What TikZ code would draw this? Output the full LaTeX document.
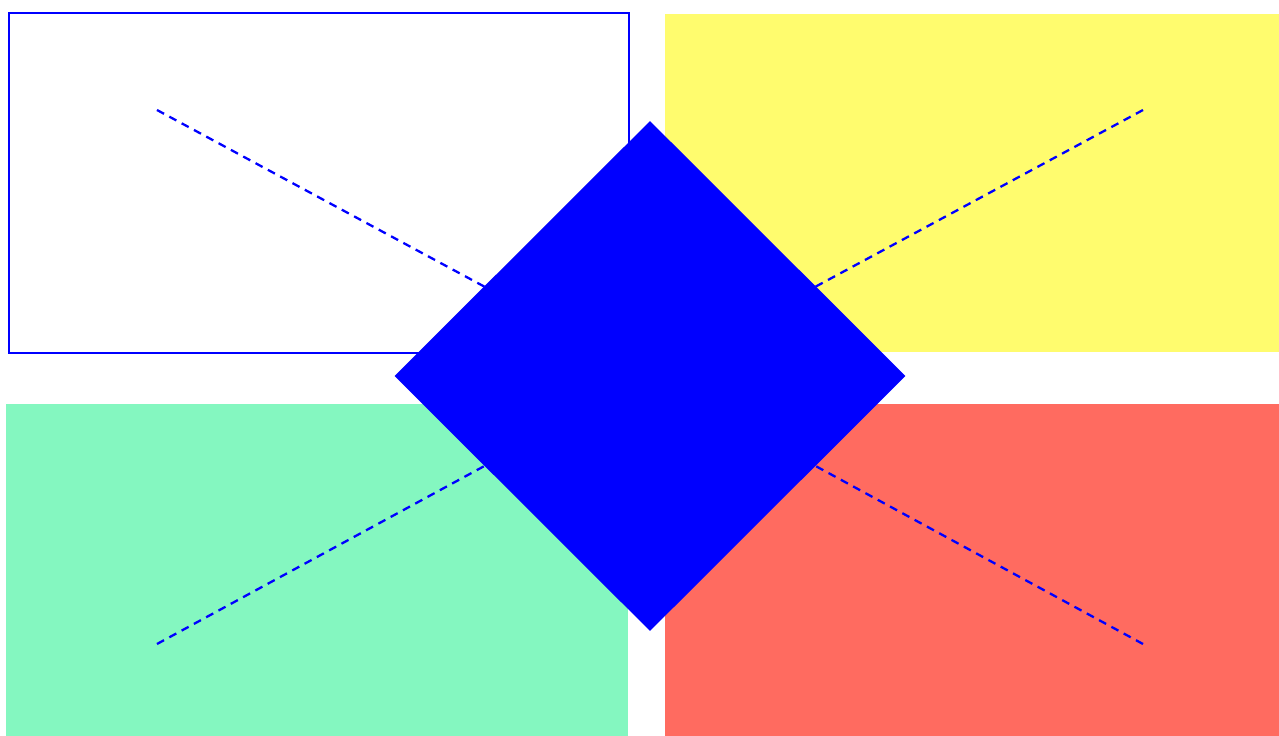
\documentclass[tikz,border=0pt]{standalone}
\usepackage{xcolor}
\usepackage{tikz}
\usetikzlibrary{shapes.geometric,positioning}

\definecolor{panelyellow}{RGB}{255,252,110}
\definecolor{panelgreen}{RGB}{132,247,192}
\definecolor{panelred}{RGB}{255,107,96}

\begin{document}
\begin{tikzpicture}[
  x=0.02cm, y=-0.02cm,
  panel/.style={rectangle, inner sep=0pt, outer sep=0pt},
  spoke/.style={blue, line width=1.3pt, dash pattern=on 0.16cm off 0.12cm},
  hubdiamond/.style={diamond, fill=blue, inner sep=0pt, outer sep=0pt,
    minimum width=10.22cm, minimum height=10.2cm}
]

\useasboundingbox (0,0) rectangle (1279,736);

% Panels
\node[panel, draw=blue, line width=1.4pt, fill=white,
  minimum width=12.4cm, minimum height=6.8cm] (topleft) at (319,183) {};
\node[panel, fill=panelyellow,
  minimum width=12.28cm, minimum height=6.76cm] (topright) at (972,183) {};
\node[panel, fill=panelgreen,
  minimum width=12.44cm, minimum height=6.64cm] (bottomleft) at (317,570) {};
\node[panel, fill=panelred,
  minimum width=12.28cm, minimum height=6.64cm] (bottomright) at (972,570) {};

% Spoke ends
\coordinate (hub) at (650,376);
\coordinate (nw) at (157,110);
\coordinate (ne) at (1143,110);
\coordinate (sw) at (157,644);
\coordinate (se) at (1143,644);

% Spokes
\draw[spoke] (nw) -- (hub);
\draw[spoke] (ne) -- (hub);
\draw[spoke] (sw) -- (hub);
\draw[spoke] (se) -- (hub);

% Centre
\node[hubdiamond] (core) at (hub) {};

\end{tikzpicture}
\end{document}
